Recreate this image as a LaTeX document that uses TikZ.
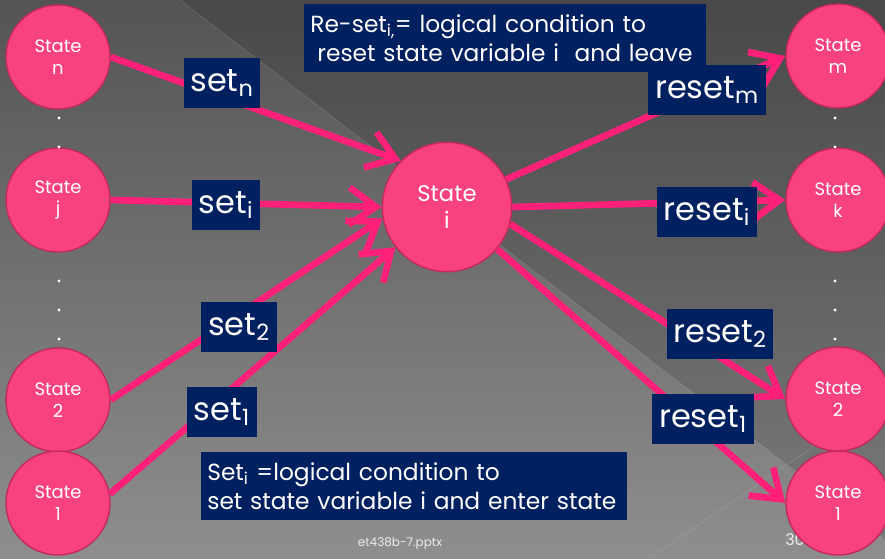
\documentclass[tikz,border=0pt]{standalone}
\usepackage{fontspec}
\setmainfont{Poppins}
\usetikzlibrary{arrows.meta}
\definecolor{bgtop}{RGB}{84,84,84}
\definecolor{bgbot}{RGB}{142,142,142}
\definecolor{rose}{RGB}{247,66,126}
\definecolor{roseline}{RGB}{196,40,92}
\definecolor{wire}{RGB}{255,32,122}
\definecolor{navy}{RGB}{0,32,96}

\begin{document}
\begin{tikzpicture}[x=0.75pt, y=-0.75pt,
  st/.style={circle, draw=roseline, line width=1pt, fill=rose, text=white, minimum size=78pt, inner sep=0pt, align=center, font=\fontsize{13.5}{16}\selectfont},
  lbl/.style={fill=navy, text=white, minimum height=37pt, inner xsep=5pt, font=\fontsize{24}{26}\selectfont},
  note/.style={fill=navy, text=white, align=left, inner xsep=5pt, minimum height=51pt, font=\fontsize{17.5}{22}\selectfont},
  arr/.style={wire, line width=5pt, -{Straight Barb[length=20pt, width=28pt]}}]
  \useasboundingbox (0,0) rectangle (885,558);
  \shade[top color=bgtop, bottom color=bgbot] (0,0) rectangle (885,558);
  \fill[black, opacity=.13] (180,0) -- (885,0) -- (885,540) -- cycle;
  \draw[white, opacity=.15] (180,0) -- (885,540);
  \draw[white, opacity=.15] (650,558) -- (885,398);
  \node[text=white!85!gray, font=\fontsize{9}{10}\selectfont] (pg) at (400,544) {et438b-7.pptx};
  \node[text=white!85!gray, font=\fontsize{12}{13}\selectfont] (nr) at (795,540) {30};
  % states
  \node[st] (n) at (58,57) {State\\n};
  \node[st] (j) at (58,200) {State\\j};
  \node[st] (l2) at (58,400) {State\\2};
  \node[st] (l1) at (58,503) {State\\1};
  \node[st, minimum size=97pt, font=\fontsize{17}{20}\selectfont] (i) at (447,207) {State\\i};
  \node[st] (m) at (838,56) {State\\m};
  \node[st] (k) at (838,200) {State\\k};
  \node[st] (r2) at (838,399) {State\\2};
  \node[st] (r1) at (838,503) {State\\1};
  \foreach \y in {118,147,281,310,339} {
    \fill[white] (59,\y) circle (1.2pt);
    \fill[white] (835,\y) circle (1.2pt);
  }
  % transitions
  \draw[arr] (n.east) -- (i.135);
  \draw[arr] (j.east) -- (i.west);
  \draw[arr] (l2.east) -- (i.190);
  \draw[arr] (l1.10) -- (i.218);
  \draw[arr] (i.25) -- (m.west);
  \draw[arr] (i.east) -- (k.west);
  \draw[arr] (i.-15) -- (r2.west);
  \draw[arr] (i.-40) -- (r1.west);
  % conditions
  \node[lbl] (sn) at (222,83) {set\textsubscript{n}};
  \node[lbl] (si) at (226,205) {set\textsubscript{i}};
  \node[lbl] (s2) at (239,327) {set\textsubscript{2}};
  \node[lbl] (s1) at (222,412) {set\textsubscript{1}};
  \node[lbl] (rm) at (707,90) {reset\textsubscript{m}};
  \node[lbl] (ri) at (707,212) {reset\textsubscript{i}};
  \node[lbl] (rs2) at (720,334) {reset\textsubscript{2}};
  \node[lbl] (rs1) at (703,419) {reset\textsubscript{1}};
  \node[note, text width=292pt] (leave) at (505,38) {Re-set\textsubscript{i,}= logical condition to\\\hspace{0.3em}reset state variable i\ \ and leave};
  \node[note, text width=310pt] (enter) at (414,486) {Set\textsubscript{i} =logical condition to\\set state variable i and enter state};
\end{tikzpicture}
\end{document}
